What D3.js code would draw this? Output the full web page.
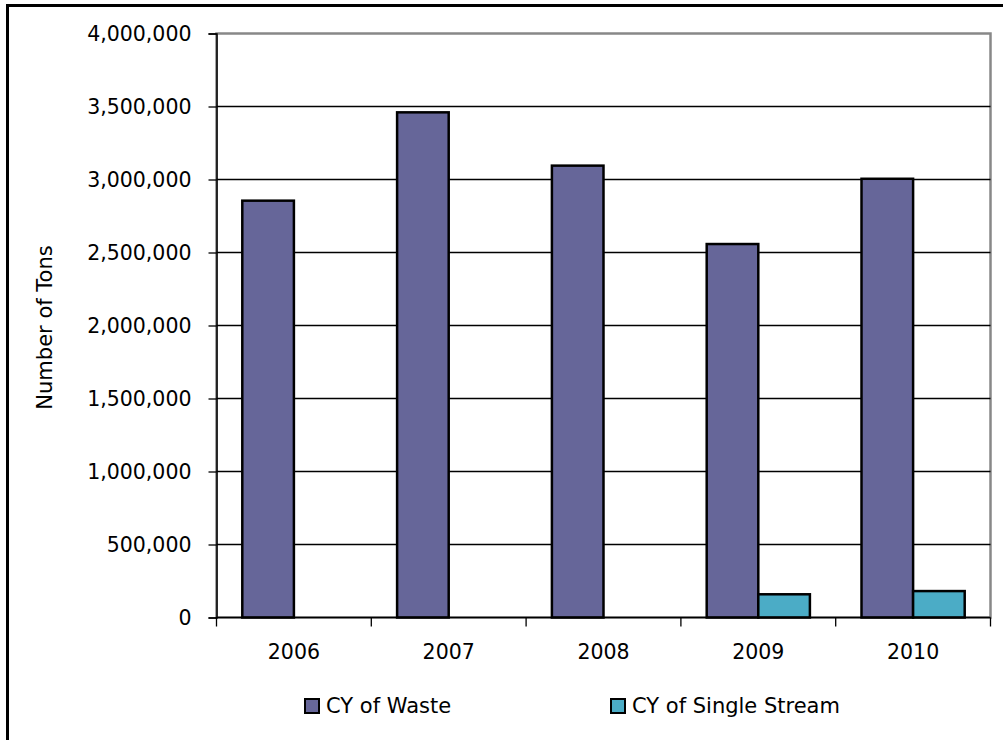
<!DOCTYPE html>
<html>
<head>
<meta charset="utf-8">
<script src="https://cdn.jsdelivr.net/npm/d3@7"></script>
<style>
  html, body { margin: 0; padding: 0; background: #fff; }
  svg { display: block; }
  text { font-family: "DejaVu Sans", sans-serif; fill: #000; }
</style>
</head>
<body>
<svg id="chart" width="1003" height="740"></svg>
<script>
// Annual tonnage by calendar year
const years = ["2006", "2007", "2008", "2009", "2010"];
const seriesNames = ["CY of Waste", "CY of Single Stream"];
const wasteTons = [2855000, 3460000, 3095000, 2558000, 3005000];
const singleStreamTons = [0, 0, 0, 159000, 181000];
const yTicks = [0, 500000, 1000000, 1500000, 2000000, 2500000, 3000000, 3500000, 4000000];
const seriesColors = ["#666699", "#4BACC6"];

const seriesValues = [wasteTons, singleStreamTons];
const svg = d3.select("#chart");

const plot = { left: 216.5, right: 990.5, top: 33.5, bottom: 617.5 };

const x = d3.scaleBand().domain(years).range([plot.left, plot.right]).paddingInner(0).paddingOuter(0);
const x1 = d3.scaleBand().domain(seriesNames).range([0, x.bandwidth()]).paddingInner(0).paddingOuter(0.5);
const y = d3.scaleLinear().domain([0, 4000000]).range([plot.bottom, plot.top]);

// outer frame
svg.append("rect")
  .attr("x", 7.5).attr("y", 5.5)
  .attr("width", 1010).attr("height", 760)
  .attr("fill", "none").attr("stroke", "#000").attr("stroke-width", 3);

// plot area frame
svg.append("rect")
  .attr("x", plot.left).attr("y", plot.top)
  .attr("width", plot.right - plot.left).attr("height", plot.bottom - plot.top)
  .attr("fill", "none").attr("stroke", "#888").attr("stroke-width", 2.5);

// horizontal gridlines
svg.append("g")
  .selectAll("line")
  .data(yTicks.filter(t => t > 0 && t < 4000000))
  .join("line")
  .attr("x1", plot.left).attr("x2", plot.right)
  .attr("y1", d => y(d)).attr("y2", d => y(d))
  .attr("stroke", "#000").attr("stroke-width", 1.3);

// bars
const groups = svg.append("g")
  .selectAll("g")
  .data(years)
  .join("g")
  .attr("transform", d => `translate(${x(d)},0)`);

groups.selectAll("rect")
  .data((d, i) => seriesNames.map((s, j) => ({ s, j, v: seriesValues[j][i] })).filter(e => e.v > 0))
  .join("rect")
  .attr("x", e => x1(e.s))
  .attr("width", x1.bandwidth())
  .attr("y", e => y(e.v))
  .attr("height", e => y(0) - y(e.v))
  .attr("fill", e => seriesColors[e.j])
  .attr("stroke", "#000")
  .attr("stroke-width", 2.5);

// y axis
const yAxis = svg.append("g")
  .attr("transform", `translate(${plot.left},0)`)
  .call(d3.axisLeft(y).tickValues(yTicks).tickSize(8).tickPadding(17).tickFormat(d3.format(",")));
yAxis.select(".domain").attr("stroke", "#000").attr("stroke-width", 1.5);
yAxis.selectAll(".tick line").attr("stroke", "#000").attr("stroke-width", 1.3);
yAxis.selectAll(".tick text").attr("font-size", 20.5).attr("font-family", "DejaVu Sans").attr("dy", "0.36em");

// x axis with ticks on category boundaries
const xAxisG = svg.append("g").attr("transform", `translate(0,${plot.bottom})`);
xAxisG.append("line")
  .attr("x1", plot.left).attr("x2", plot.right)
  .attr("stroke", "#000").attr("stroke-width", 1.5);
const boundaries = years.map(d => x(d)).concat([x(years[years.length - 1]) + x.bandwidth()]);
xAxisG.selectAll("line.tk")
  .data(boundaries)
  .join("line").attr("class", "tk")
  .attr("x1", d => d).attr("x2", d => d)
  .attr("y1", 0).attr("y2", 9)
  .attr("stroke", "#000").attr("stroke-width", 1.3);
xAxisG.selectAll("text")
  .data(years)
  .join("text")
  .attr("x", d => x(d) + x.bandwidth() / 2)
  .attr("y", 41)
  .attr("text-anchor", "middle")
  .attr("font-size", 20.5)
  .text(d => d);

// y axis title
svg.append("text")
  .attr("transform", `translate(52,${(plot.top + plot.bottom) / 2 + 2}) rotate(-90)`)
  .attr("text-anchor", "middle")
  .attr("font-size", 21)
  .text("Number of Tons");

// legend
const legendX = [305, 611];
const legend = svg.append("g")
  .selectAll("g")
  .data(seriesNames)
  .join("g")
  .attr("transform", (d, i) => `translate(${legendX[i]},699)`);
legend.append("rect")
  .attr("width", 14).attr("height", 14)
  .attr("fill", (d, i) => seriesColors[i])
  .attr("stroke", "#000").attr("stroke-width", 2);
legend.append("text")
  .attr("x", 21).attr("y", 14)
  .attr("font-size", 21)
  .text(d => d);
</script>
</body>
</html>
